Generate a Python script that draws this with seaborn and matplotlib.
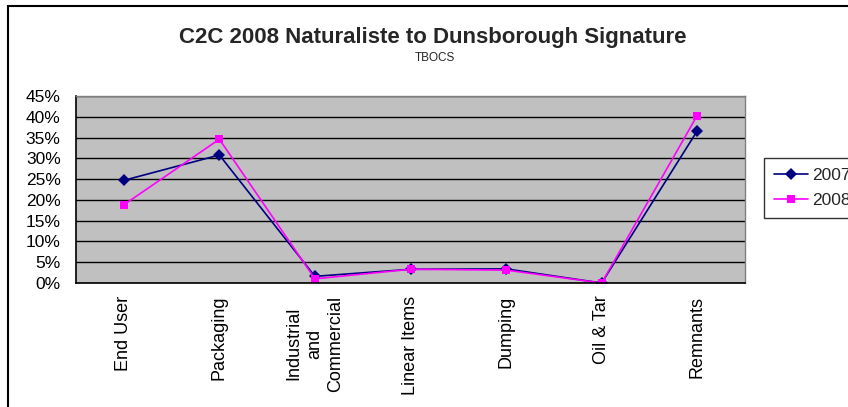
import numpy as np
import pandas as pd
import matplotlib
matplotlib.use("Agg")
import matplotlib.pyplot as plt
from matplotlib.patches import Rectangle
from matplotlib.ticker import FixedLocator, PercentFormatter
import seaborn as sns

categories = ["End User", "Packaging", "Industrial\nand\nCommercial", "Linear Items",
              "Dumping", "Oil & Tar", "Remnants"]
values_2007 = [24.7, 30.8, 1.6, 3.3, 3.4, 0.0, 36.6]
values_2008 = [18.8, 34.6, 1.0, 3.3, 3.1, 0.0, 40.3]
years = ["2007", "2008"]

df = pd.DataFrame({
    "Category": categories * 2,
    "Share": values_2007 + values_2008,
    "Year": [years[0]] * len(categories) + [years[1]] * len(categories),
})

sns.set_theme(style="white")
plt.rcParams["font.family"] = ["Liberation Sans", "DejaVu Sans"]

fig = plt.figure(figsize=(8.48, 4.07), dpi=100)
W, H = 848, 407

# chart-area frame
fig.patches.append(Rectangle((8 / W, 0 - 0.1), 1.2, (H - 6) / H + 0.1,
                             transform=fig.transFigure, fill=False,
                             edgecolor="black", linewidth=1.5, zorder=0))

ax = fig.add_axes([76 / W, (H - 283) / H, (745 - 76) / W, (283 - 96) / H])
ax.set_facecolor("#C0C0C0")

sns.lineplot(data=df, x="Category", y="Share", hue="Year", style="Year",
             palette={"2007": "#000080", "2008": "#FF00FF"},
             markers={"2007": "D", "2008": "s"}, dashes=False,
             markersize=6, markeredgewidth=0, linewidth=1.2,
             sort=False, ax=ax, legend=True)

ax.set_xlim(-0.5, len(categories) - 0.5)
ax.set_ylim(0, 45)
ax.yaxis.set_major_locator(FixedLocator(np.arange(0, 46, 5)))
ax.yaxis.set_major_formatter(PercentFormatter(decimals=0))
ax.grid(axis="y", color="black", linewidth=1)
ax.set_axisbelow(True)

ax.set_xticks(range(len(categories)))
ax.set_xticklabels(categories, rotation=90, fontsize=13, ha="center", va="top",
                   multialignment="center", linespacing=1.3)
ax.set_xticks(np.arange(-0.5, len(categories), 1), minor=True)
ax.tick_params(axis="x", which="major", length=0, pad=9)
ax.tick_params(axis="x", which="minor", length=5, width=1, color="black", direction="out")
ax.tick_params(axis="y", which="major", length=5, width=1, color="black",
               direction="out", labelsize=12.5, pad=6)
ax.tick_params(axis="both", colors="black")
ax.set_xlabel("")
ax.set_ylabel("")

for side in ["top", "right"]:
    ax.spines[side].set_color("#808080")
    ax.spines[side].set_linewidth(1)
for side in ["left", "bottom"]:
    ax.spines[side].set_color("black")
    ax.spines[side].set_linewidth(1.2)

handles, labels = ax.get_legend_handles_labels()
ax.get_legend().remove()
leg = fig.legend(handles, labels, loc="upper left",
                 bbox_to_anchor=(764 / W, (H - 158) / H),
                 frameon=True, fancybox=False, fontsize=12.5,
                 handlelength=2.0, borderpad=0.55, labelspacing=0.6,
                 handletextpad=0.2, borderaxespad=0)
leg.get_frame().set_edgecolor("black")
leg.get_frame().set_linewidth(1)

fig.text(433 / W, (H - 37) / H, "C2C 2008 Naturaliste to Dunsborough Signature",
         ha="center", va="center", fontsize=16, fontweight="bold")
fig.text(435 / W, (H - 58) / H, "TBOCS", ha="center", va="center", fontsize=8.5)

fig.savefig("out.png", dpi=100)
